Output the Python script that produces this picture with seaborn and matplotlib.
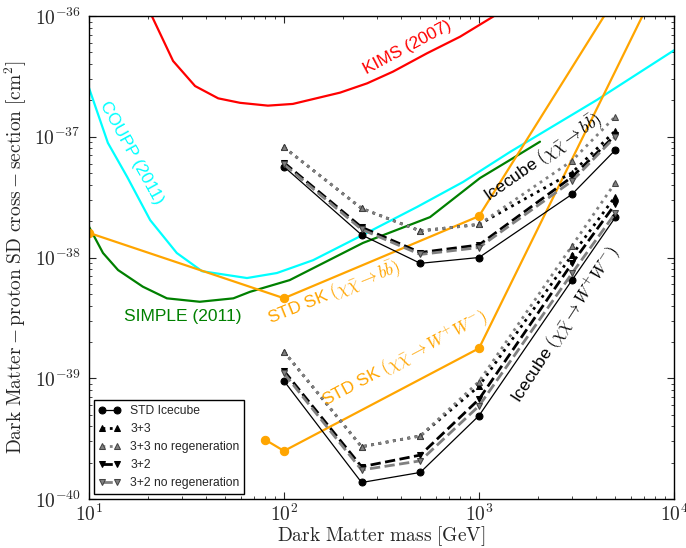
import math
import seaborn as sns
import matplotlib
matplotlib.use("Agg")
import matplotlib.pyplot as plt
from matplotlib import ticker

# data (GeV, cm^2)
mass_ic = [100, 250, 500, 1000, 3000, 5000]
bb_std = [5.65e-38, 1.54e-38, 8.95e-39, 1.0e-38, 3.34e-38, 7.77e-38]
bb_33 = [8.18e-38, 2.55e-38, 1.66e-38, 1.88e-38, 5.04e-38, 1.12e-37]
bb_33_noreg = [8.18e-38, 2.55e-38, 1.66e-38, 1.88e-38, 6.33e-38, 1.47e-37]
bb_32 = [6.1e-38, 1.78e-38, 1.1e-38, 1.27e-38, 4.65e-38, 1.03e-37]
bb_32_noreg = [5.9e-38, 1.71e-38, 1.06e-38, 1.21e-38, 4.3e-38, 1.0e-37]

ww_std = [9.5e-40, 1.37e-40, 1.66e-40, 4.9e-40, 6.5e-39, 2.15e-38]
ww_33 = [1.66e-39, 2.71e-40, 3.33e-40, 8.6e-40, 1.05e-38, 3.2e-38]
ww_33_noreg = [1.66e-39, 2.71e-40, 3.33e-40, 9.4e-40, 1.25e-38, 4.17e-38]
ww_32 = [1.15e-39, 1.85e-40, 2.31e-40, 6.7e-40, 8.95e-39, 2.77e-38]
ww_32_noreg = [1.1e-39, 1.74e-40, 2.07e-40, 5.9e-40, 7.4e-39, 2.33e-38]

sk_bb_mass = [10, 100, 1000, 10000]
sk_bb = [1.6e-38, 4.6e-39, 2.2e-38, 8.4e-36]
sk_ww_mass = [80, 100, 1000, 10000]
sk_ww = [3.1e-40, 2.5e-40, 1.77e-39, 3.4e-36]

kims_mass = [20, 21, 27, 35, 46, 59.5, 82.7, 111, 194, 267, 362, 541, 800, 1180, 1300]
kims = [1.2e-36, 1.0e-36, 4.24e-37, 2.63e-37, 2.08e-37, 1.91e-37, 1.81e-37, 1.87e-37,
        2.32e-37, 2.77e-37, 3.46e-37, 4.91e-37, 6.74e-37, 9.87e-37, 1.1e-36]

coupp_mass = [10, 12.5, 15.7, 20.6, 28.2, 38, 64.6, 92, 141, 254, 481, 828, 1442, 4027, 10000]
coupp = [2.54e-37, 8.9e-38, 4.65e-38, 2.04e-38, 1.09e-38, 7.7e-39, 6.76e-39, 7.44e-39,
         9.5e-39, 1.54e-38, 2.62e-38, 4.22e-38, 7.48e-38, 2.02e-37, 5.2e-37]

simple_mass = [10, 11.8, 14.1, 18.9, 25.1, 37, 55, 67, 107, 254, 561, 1012, 1442, 2055]
simple = [1.8e-38, 1.09e-38, 7.87e-39, 5.73e-39, 4.59e-39, 4.3e-39, 4.59e-39, 5.2e-39,
          6.5e-39, 1.32e-38, 2.16e-38, 4.55e-38, 6.42e-38, 9.1e-38]

sns.set_style("ticks")
plt.rcParams['font.family'] = ['Liberation Sans', 'DejaVu Sans']
plt.rcParams['mathtext.fontset'] = 'cm'
plt.rcParams['xtick.direction'] = 'in'
plt.rcParams['ytick.direction'] = 'in'

fig, ax = plt.subplots(figsize=(6.86, 5.48), dpi=100)
fig.subplots_adjust(left=0.1297, right=0.9825, bottom=0.0894, top=0.9708)
ax.set_xscale('log')
ax.set_yscale('log')

# other experiments
sns.lineplot(x=kims_mass, y=kims, color='red', lw=1.6, ax=ax)
sns.lineplot(x=coupp_mass, y=coupp, color='cyan', lw=1.6, ax=ax)
sns.lineplot(x=simple_mass, y=simple, color='green', lw=1.6, ax=ax)
sns.lineplot(x=sk_bb_mass, y=sk_bb, color='orange', lw=1.6, marker='o', ms=6,
             mec='orange', ax=ax)
sns.lineplot(x=sk_ww_mass, y=sk_ww, color='orange', lw=1.6, marker='o', ms=6,
             mec='orange', ax=ax)

# icecube curves
styles = [
    dict(color='black', ls='-', lw=0.9, marker='o', mec='black', ms=5),
    dict(color='black', ls=':', lw=2, marker='^', mec='black', ms=5),
    dict(color='gray', ls=':', lw=2, marker='^', mec='#444444', ms=5),
    dict(color='black', ls='--', lw=2, marker='v', mec='black', ms=5),
    dict(color='gray', ls='--', lw=2, marker='v', mec='#444444', ms=5),
]
labels = ['STD Icecube', '3+3', '3+3 no regeneration', '3+2', '3+2 no regeneration']
handles = []
for vals, st in zip([bb_std, bb_33, bb_33_noreg, bb_32, bb_32_noreg], styles):
    sns.lineplot(x=mass_ic, y=vals, ax=ax, **st)
    handles.append(ax.get_lines()[-1])
for vals, st in zip([ww_std, ww_33, ww_33_noreg, ww_32, ww_32_noreg], styles):
    sns.lineplot(x=mass_ic, y=vals, ax=ax, **st)

ax.set_xlim(10, 1e4)
ax.set_ylim(1e-40, 1e-36)

fmt = ticker.FuncFormatter(lambda v, p: r'$\mathrm{10^{%d}}$' % round(math.log10(v)))
ax.xaxis.set_major_formatter(fmt)
ax.yaxis.set_major_formatter(fmt)
ax.tick_params(which='both', top=True, right=True, labelsize=14)
ax.tick_params(axis='x', pad=3)
ax.tick_params(axis='y', pad=6)
ax.tick_params(which='major', length=5, width=0.8)
ax.tick_params(which='minor', length=2.5, width=0.6)
for s in ax.spines.values():
    s.set_color('black')
    s.set_linewidth(1.0)

ax.set_xlabel(r'$\mathrm{Dark\ Matter\ mass\ [GeV]}$', fontsize=14, labelpad=0)
ax.set_ylabel(r'$\mathrm{Dark\ Matter-proton\ SD\ cross-section\ [cm^2]}$',
              fontsize=14, labelpad=4)

txt = dict(transform=ax.transAxes, ha='center', va='center', rotation_mode='anchor', fontsize=12.5)
ax.text(0.545, 0.934, 'KIMS (2007)', color='red', rotation=28, **txt)
ax.text(0.072, 0.716, 'COUPP (2011)', color='cyan', rotation=-61, **txt)
ax.text(0.161, 0.377, 'SIMPLE (2011)', color='green', rotation=0, **txt)
ax.text(0.419, 0.4255, r'STD SK $(\chi\bar{\chi}\rightarrow b\bar{b})$', color='orange',
        rotation=22, **txt)
ax.text(0.540, 0.288, r'STD SK $(\chi\bar{\chi}\rightarrow W^{+}W^{-})$', color='orange',
        rotation=28, **txt)
ax.text(0.776, 0.706, r'Icecube $(\chi\bar{\chi}\rightarrow b\bar{b})$', color='black',
        rotation=35, **txt)
ax.text(0.815, 0.36, r'Icecube $(\chi\bar{\chi}\rightarrow W^{+}W^{-})$', color='black',
        rotation=57, **txt)

leg = ax.legend(handles, labels, loc='lower left', numpoints=2, fontsize=8.7,
                handlelength=1.8, fancybox=False, framealpha=1, borderaxespad=0.4)
leg.get_frame().set_edgecolor('black')

fig.savefig('out.png', dpi=100)
